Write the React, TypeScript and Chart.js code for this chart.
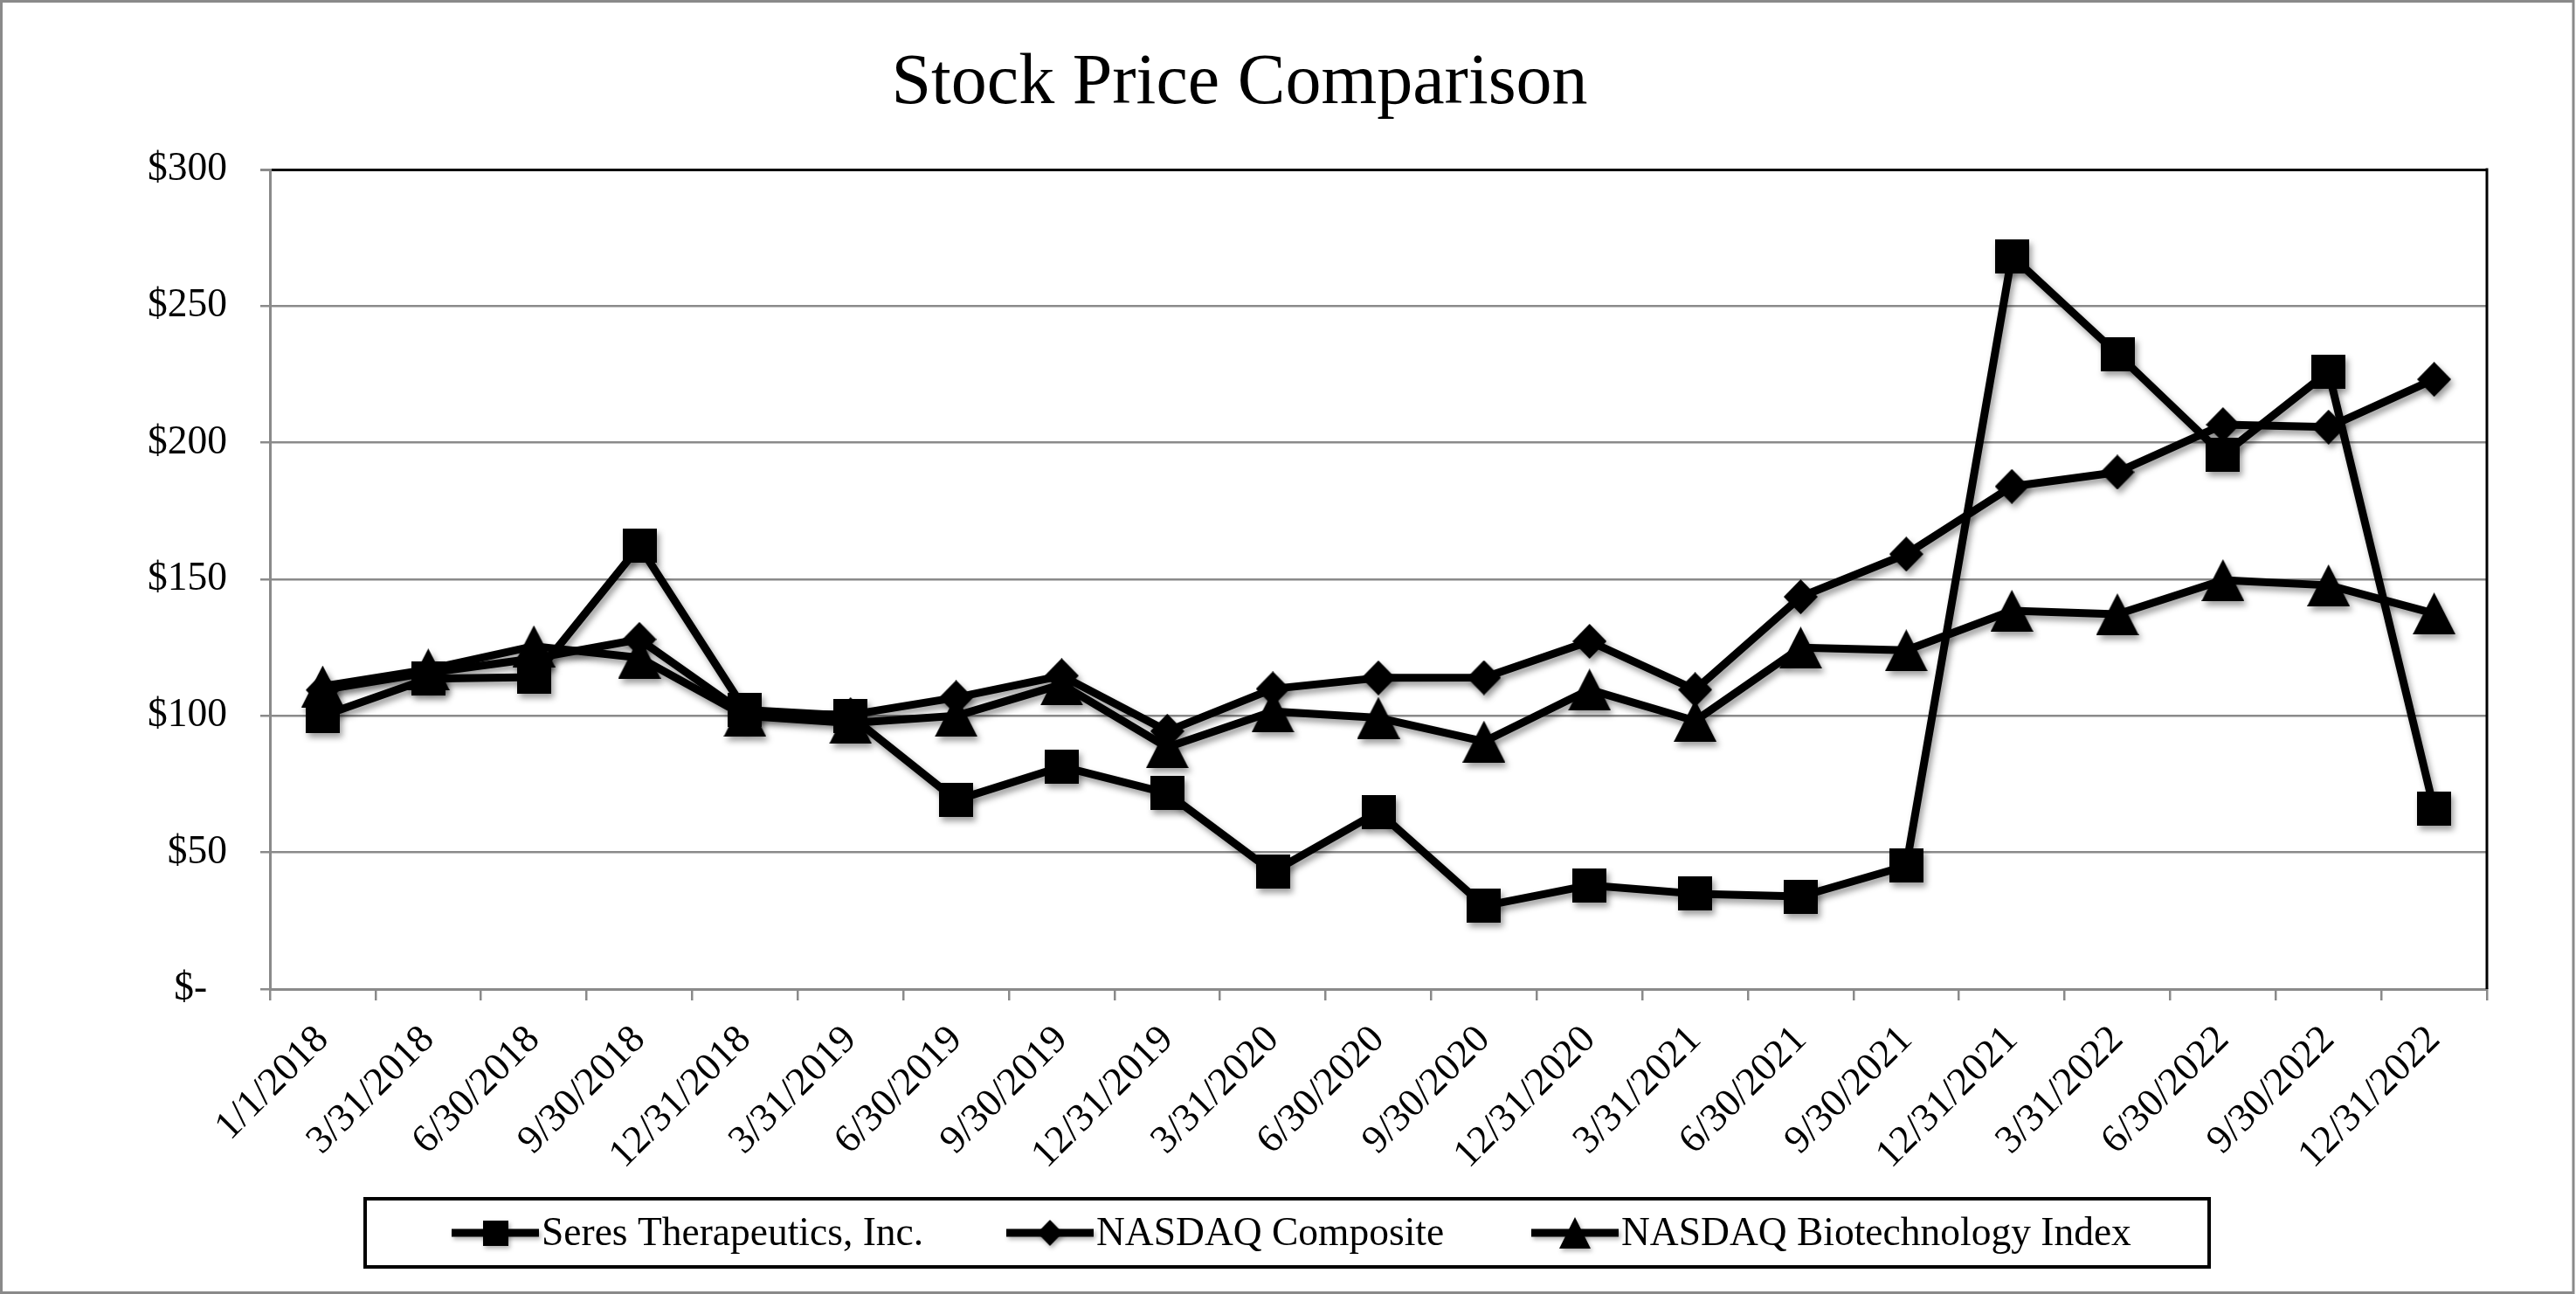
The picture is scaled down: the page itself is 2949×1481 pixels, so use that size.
import React, { useEffect, useRef } from 'react';
import { Chart, registerables } from 'chart.js';

Chart.register(...registerables);

// ---------- data ----------
const chartTitle = 'Stock Price Comparison';

const categories = [
  '1/1/2018', '3/31/2018', '6/30/2018', '9/30/2018', '12/31/2018',
  '3/31/2019', '6/30/2019', '9/30/2019', '12/31/2019',
  '3/31/2020', '6/30/2020', '9/30/2020', '12/31/2020',
  '3/31/2021', '6/30/2021', '9/30/2021', '12/31/2021',
  '3/31/2022', '6/30/2022', '9/30/2022', '12/31/2022',
];

const seriesNames = ['Seres Therapeutics, Inc.', 'NASDAQ Composite', 'NASDAQ Biotechnology Index'];

const seresValues = [
  100, 113.6, 114.2, 162.2, 102.2, 100, 69.2, 81.4, 71.7, 42.9, 64.9,
  30.4, 38.0, 34.9, 33.9, 45.1, 268.3, 232.5, 195.6, 226.0, 65.9,
];

const nasdaqCompositeValues = [
  109.5, 115.8, 121.0, 128.0, 100.8, 100.4, 106.7, 114.7, 94.4, 109.9, 113.9,
  114.0, 127.3, 109.6, 143.6, 159.2, 184.0, 189.2, 206.6, 205.7, 223.2,
];

const nasdaqBiotechValues = [
  110.8, 117.0, 125.5, 121.3, 100.0, 97.4, 100.0, 111.5, 88.5, 101.6, 99.3,
  90.6, 109.6, 98.2, 125.0, 124.0, 138.5, 137.2, 149.7, 147.8, 137.5,
];

const yMin = 0;
const yMax = 300;
const yStep = 50;

// ---------- styles / layout ----------
const FONT = "'Liberation Serif', 'Times New Roman', serif";
const GRID = '#8a8a8a';
const W = 2949;
const H = 1481;

type MarkerKind = 'square' | 'diamond' | 'triangle';
const markerKinds: MarkerKind[] = ['square', 'diamond', 'triangle'];
const markerSizes: Record<MarkerKind, [number, number]> = {
  square: [39, 39],
  diamond: [39, 40],
  triangle: [49, 48],
};
const legendItemStarts = [517, 1152, 1753];

function makeMarker(kind: MarkerKind, w: number, h: number): HTMLCanvasElement {
  const c = document.createElement('canvas');
  c.width = Math.round(w);
  c.height = Math.round(h);
  const g = c.getContext('2d') as CanvasRenderingContext2D;
  g.fillStyle = '#000';
  g.beginPath();
  if (kind === 'square') {
    g.rect(0, 0, c.width, c.height);
  } else if (kind === 'diamond') {
    g.moveTo(c.width / 2, 0);
    g.lineTo(c.width, c.height / 2);
    g.lineTo(c.width / 2, c.height);
    g.lineTo(0, c.height / 2);
    g.closePath();
  } else {
    g.moveTo(c.width / 2, 0);
    g.lineTo(c.width, c.height);
    g.lineTo(0, c.height);
    g.closePath();
  }
  g.fill();
  return c;
}

export default function App() {
  const canvasRef = useRef<HTMLCanvasElement | null>(null);

  useEffect(() => {
    const canvas = canvasRef.current;
    if (!canvas) return;

    const chartMarkers = markerKinds.map((k) => makeMarker(k, markerSizes[k][0], markerSizes[k][1]));
    const legendMarkers = markerKinds.map((k) =>
      makeMarker(k, markerSizes[k][0] * 0.74, markerSizes[k][1] * 0.74)
    );

    const seriesValues = [seresValues, nasdaqCompositeValues, nasdaqBiotechValues];

    const decorPlugin = {
      id: 'decor',
      beforeDraw(chart: any) {
        const ctx = chart.ctx as CanvasRenderingContext2D;
        ctx.save();
        ctx.fillStyle = '#ffffff';
        ctx.fillRect(0, 0, chart.width, chart.height);
        ctx.restore();
      },
      beforeDatasetsDraw(chart: any) {
        const ctx = chart.ctx as CanvasRenderingContext2D;
        const a = chart.chartArea;
        ctx.save();
        ctx.strokeStyle = '#000';
        ctx.lineWidth = 3;
        ctx.beginPath();
        ctx.moveTo(a.right, a.top - 1.5);
        ctx.lineTo(a.right, a.bottom);
        ctx.stroke();
        ctx.restore();
        ctx.save();
        ctx.shadowColor = 'rgba(0,0,0,0.38)';
        ctx.shadowBlur = 7;
        ctx.shadowOffsetX = 3;
        ctx.shadowOffsetY = 5;
      },
      afterDatasetsDraw(chart: any) {
        chart.ctx.restore();
      },
      afterDraw(chart: any) {
        const ctx = chart.ctx as CanvasRenderingContext2D;
        ctx.save();
        // outer frame
        ctx.strokeStyle = '#8a8a8a';
        ctx.lineWidth = 3;
        ctx.strokeRect(1.5, 1.5, W - 4.5, H - 3);

        // title
        ctx.fillStyle = '#000';
        ctx.font = `82px ${FONT}`;
        ctx.textAlign = 'center';
        ctx.textBaseline = 'alphabetic';
        ctx.fillText(chartTitle, 1419, 118);

        // legend box
        ctx.strokeStyle = '#000';
        ctx.lineWidth = 4;
        ctx.strokeRect(418, 1372, 2111, 78);

        const ly = 1411;
        ctx.font = `45.5px ${FONT}`;
        ctx.textAlign = 'left';
        chart.data.datasets.forEach((ds: any, i: number) => {
          const x0 = legendItemStarts[i];
          ctx.save();
          ctx.shadowColor = 'rgba(0,0,0,0.3)';
          ctx.shadowBlur = 5;
          ctx.shadowOffsetX = 2;
          ctx.shadowOffsetY = 3;
          ctx.strokeStyle = ds.borderColor;
          ctx.lineWidth = 9;
          ctx.beginPath();
          ctx.moveTo(x0, ly);
          ctx.lineTo(x0 + 100, ly);
          ctx.stroke();
          const m = legendMarkers[i];
          ctx.drawImage(m, x0 + 50 - m.width / 2, ly - m.height / 2);
          ctx.restore();
          ctx.fillStyle = '#000';
          ctx.fillText(ds.label, x0 + 103, 1425);
        });
        ctx.restore();
      },
    };

    const chart = new Chart(canvas, {
      type: 'line',
      data: {
        labels: categories,
        datasets: seriesNames.map((name, i) => ({
          label: name,
          data: seriesValues[i],
          borderColor: '#000',
          backgroundColor: '#000',
          borderWidth: 9,
          borderJoinStyle: 'round' as const,
          borderCapStyle: 'round' as const,
          pointStyle: chartMarkers[i] as any,
          pointRadius: 20,
          pointHoverRadius: 20,
          tension: 0,
          fill: false,
          clip: false as any,
        })),
      },
      options: {
        responsive: false,
        animation: false,
        devicePixelRatio: 1,
        layout: { padding: { top: 194, right: 102, bottom: 0, left: 0 } },
        plugins: {
          legend: { display: false },
          title: { display: false },
          tooltip: { enabled: false },
        },
        scales: {
          x: {
            type: 'category',
            offset: true,
            grid: {
              offset: true,
              drawOnChartArea: false,
              drawTicks: true,
              tickLength: 13,
              color: GRID,
              lineWidth: 2.5,
            },
            border: { color: GRID, width: 3 },
            ticks: {
              autoSkip: false,
              maxRotation: 45,
              minRotation: 45,
              padding: 30,
              color: '#000',
              font: { family: FONT, size: 45.5, lineHeight: 0.5 },
            },
            afterFit: (s: any) => {
              s.height = 349;
            },
          },
          y: {
            min: yMin,
            max: yMax,
            ticks: {
              stepSize: yStep,
              padding: 38,
              color: '#000',
              font: { family: FONT, size: 45.5 },
              callback: (v: any) => (Number(v) === 0 ? '$-  ' : '$' + v),
            },
            grid: {
              drawTicks: true,
              tickLength: 11,
              tickColor: GRID,
              color: (c: any) => (c.tick && c.tick.value === yMax ? '#000' : GRID),
              lineWidth: (c: any) => (c.tick && c.tick.value === yMax ? 3 : 2.5),
            },
            border: { color: GRID, width: 3 },
            afterFit: (s: any) => {
              s.width = 309;
            },
          },
        },
      },
      plugins: [decorPlugin],
    });

    return () => {
      chart.destroy();
    };
  }, []);

  return (
    <div style={{ position: 'absolute', left: 0, top: 0, width: W, height: H, background: '#fff' }}>
      <canvas ref={canvasRef} width={W} height={H} style={{ display: 'block', width: W, height: H }} />
    </div>
  );
}
